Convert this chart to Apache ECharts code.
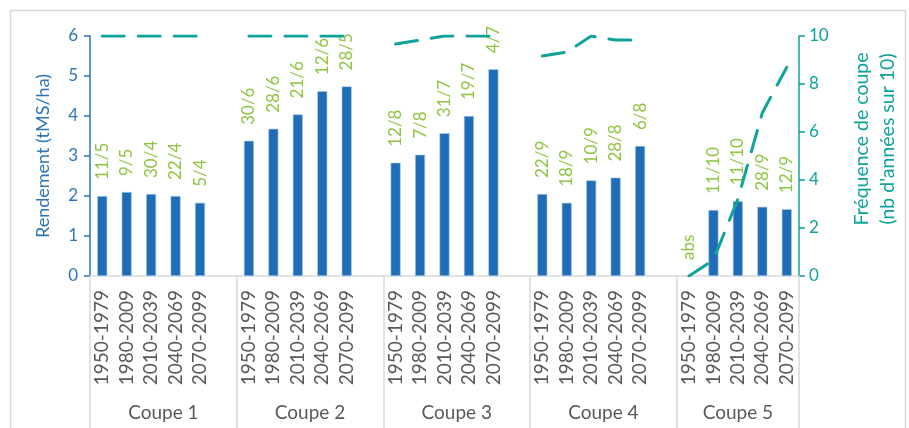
<!DOCTYPE html>
<html>
<head>
<meta charset="utf-8">
<script src="https://cdn.jsdelivr.net/npm/echarts@6/dist/echarts.min.js"></script>
<style>
html,body{margin:0;padding:0;background:#fff;}
#chart{width:909px;height:428px;}
</style>
</head>
<body>
<div id="chart"></div>
<script>
// ---- data ----
var periods = ['1950-1979', '1980-2009', '2010-2039', '2040-2069', '2070-2099'];
var groups = ['Coupe 1', 'Coupe 2', 'Coupe 3', 'Coupe 4', 'Coupe 5'];
var yieldC1 = [2.00, 2.10, 2.05, 2.00, 1.83];
var yieldC2 = [3.38, 3.68, 4.04, 4.62, 4.74];
var yieldC3 = [2.83, 3.03, 3.57, 4.00, 5.17];
var yieldC4 = [2.05, 1.83, 2.39, 2.46, 3.25];
var yieldC5 = [null, 1.65, 1.87, 1.73, 1.67];
var freqC1 = [10, 10, 10, 10, 10];
var freqC2 = [10, 10, 10, 10, 10];
var freqC3 = [9.67, 9.83, 10, 10, 10];
var freqC4 = [9.17, 9.33, 10, 9.83, 9.83];
var freqC5 = [0, 0.67, 3.2, 6.8, 8.7];
var dateC1 = ['11/5', '9/5', '30/4', '22/4', '5/4'];
var dateC2 = ['30/6', '28/6', '21/6', '12/6', '28/5'];
var dateC3 = ['12/8', '7/8', '31/7', '19/7', '4/7'];
var dateC4 = ['22/9', '18/9', '10/9', '28/8', '6/8'];
var dateC5 = ['abs', '11/10', '11/10', '28/9', '12/9'];
var leftTicks = [0, 6, 1];
var rightTicks = [0, 10, 2];

// ---- build flat category data (one blank slot between groups) ----
var yields = [yieldC1, yieldC2, yieldC3, yieldC4, yieldC5];
var freqs = [freqC1, freqC2, freqC3, freqC4, freqC5];
var dates = [dateC1, dateC2, dateC3, dateC4, dateC5];
var cats = [], barData = [], lineData = [], sepVals = [0], centerVals = [], centerName = {};
groups.forEach(function (g, gi) {
  var start = cats.length;
  periods.forEach(function (p, pi) {
    cats.push(p);
    var v = yields[gi][pi];
    barData.push({
      value: v == null ? 0 : v,
      label: { formatter: dates[gi][pi] },
      itemStyle: v == null ? { borderWidth: 0, color: 'rgba(0,0,0,0)' } : {}
    });
    lineData.push(freqs[gi][pi]);
  });
  if (gi < groups.length - 1) { cats.push(''); barData.push(null); lineData.push(null); }
  var end = cats.length;
  sepVals.push(end);
  var c = (start + end) / 2;
  centerVals.push(c);
  centerName[c] = g;
});

var BLUE = '#1F6DB6', TEAL = '#0FA39B', GREEN = '#8EC641', GREY = '#595959', LGREY = '#D9D9D9';
var FONT = 'Lato';

var chart = echarts.init(document.getElementById('chart'));
chart.setOption({
  animation: false,
  backgroundColor: '#fff',
  textStyle: { fontFamily: FONT },
  graphic: [{
    type: 'rect', left: 8, top: 8, silent: true,
    shape: { width: 895, height: 440 },
    style: { fill: 'none', stroke: LGREY, lineWidth: 1.5 }
  }],
  grid: { left: 90, right: 110, top: 36, bottom: 152, containLabel: false },
  xAxis: [{
    type: 'category',
    data: cats,
    boundaryGap: true,
    axisLine: { lineStyle: { color: LGREY, width: 1.5 } },
    axisTick: { show: false },
    axisLabel: { interval: 0, rotate: 90, margin: 14, color: GREY, fontSize: 19, fontFamily: FONT }
  }, {
    type: 'value',
    min: 0, max: cats.length,
    position: 'bottom',
    axisLine: { show: false },
    splitLine: { show: false },
    axisTick: { show: true, customValues: sepVals, length: 160, inside: false, lineStyle: { color: LGREY, width: 1.5 } },
    axisLabel: {
      customValues: centerVals, margin: 127, color: GREY, fontSize: 19, fontFamily: FONT,
      formatter: function (v) { return centerName[v] || ''; }
    }
  }],
  yAxis: [{
    type: 'value',
    min: leftTicks[0], max: leftTicks[1], interval: leftTicks[2],
    position: 'left',
    name: 'Rendement (tMS/ha)',
    nameLocation: 'middle', nameRotate: 90, nameGap: 38,
    nameTextStyle: { color: '#2E75B6', fontSize: 18, fontFamily: FONT },
    axisLine: { show: true, lineStyle: { color: '#2E75B6', width: 1.5 } },
    axisTick: { show: true, inside: false, length: 6, lineStyle: { color: '#2E75B6', width: 1.5 } },
    axisLabel: { color: '#2E75B6', fontSize: 17, margin: 12, fontFamily: FONT },
    splitLine: { show: false }
  }, {
    type: 'value',
    min: rightTicks[0], max: rightTicks[1], interval: rightTicks[2],
    position: 'right',
    name: 'Fréquence de coupe\n(nb d\'années sur 10)',
    nameLocation: 'middle', nameRotate: 90, nameGap: 50,
    nameTextStyle: { color: TEAL, fontSize: 19.5, lineHeight: 26, fontFamily: FONT, padding: [0, 0, 0, 34] },
    axisLine: { show: true, lineStyle: { color: TEAL, width: 1.5 } },
    axisTick: { show: true, inside: false, length: 6, lineStyle: { color: TEAL, width: 1.5 } },
    axisLabel: { color: TEAL, fontSize: 17, margin: 10, fontFamily: FONT },
    splitLine: { show: false }
  }],
  series: [{
    type: 'bar',
    xAxisIndex: 0, yAxisIndex: 0,
    data: barData,
    barWidth: 10,
    itemStyle: { color: BLUE, borderColor: '#A9C8E8', borderWidth: 0.6 },
    label: {
      show: true, position: 'top', rotate: 90, distance: 16,
      align: 'left', verticalAlign: 'middle',
      color: GREEN, fontSize: 17, fontFamily: FONT
    },
    z: 2
  }, {
    type: 'line',
    xAxisIndex: 0, yAxisIndex: 1,
    data: lineData,
    connectNulls: false,
    symbol: 'none',
    lineStyle: { color: TEAL, width: 3, type: [22, 14], cap: 'round' },
    z: 3
  }]
});
</script>
</body>
</html>
